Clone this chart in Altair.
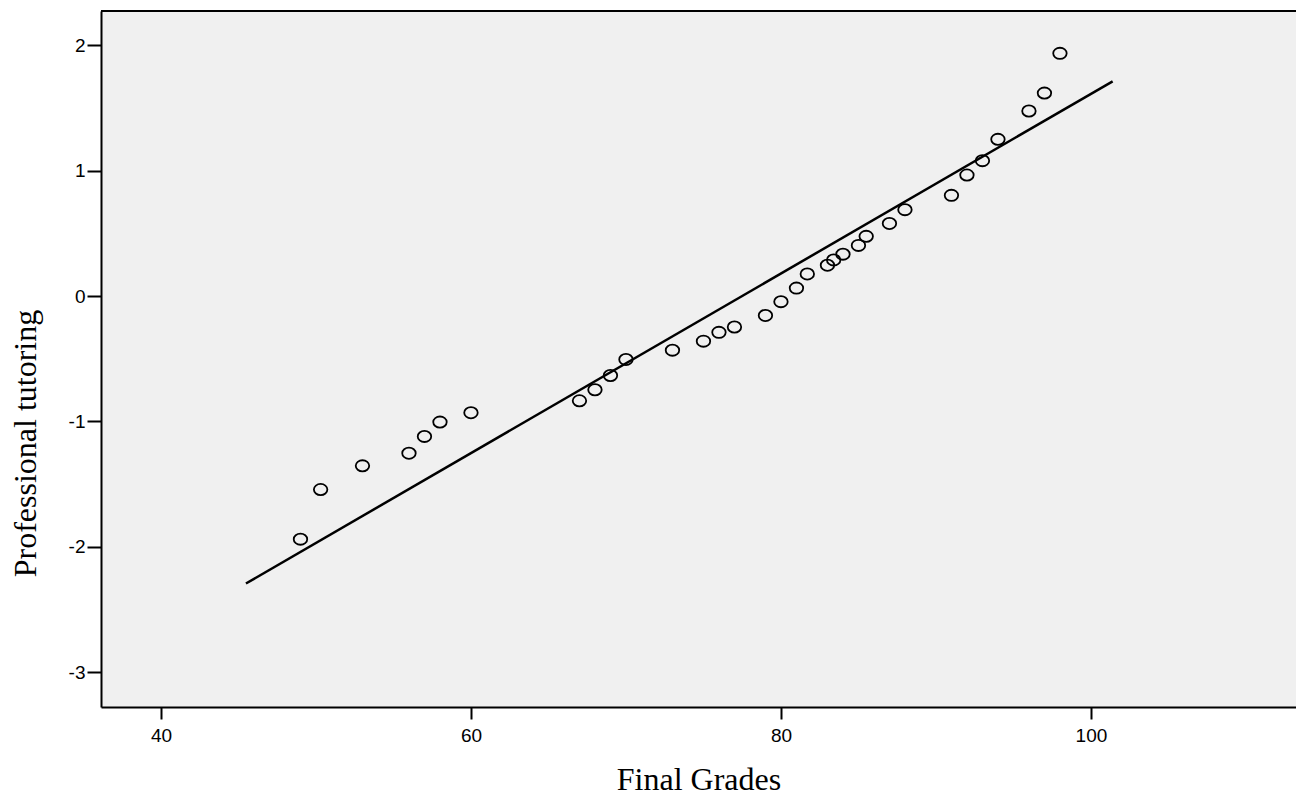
import altair as alt
import pandas as pd

# Q-Q plot data
grades = [49.0, 50.3, 53.0, 56.0, 57.0, 58.0, 60.0, 67.0, 68.0, 69.0, 70.0,
          73.0, 75.0, 76.0, 77.0, 79.0, 80.0, 81.0, 81.7, 83.0, 83.4, 84.0,
          85.0, 85.5, 87.0, 88.0, 91.0, 92.0, 93.0, 94.0, 96.0, 97.0, 98.0]
expected = [-1.940, -1.544, -1.355, -1.254, -1.120, -1.006, -0.931, -0.836,
            -0.748, -0.634, -0.506, -0.432, -0.360, -0.290, -0.247, -0.155,
            -0.045, 0.063, 0.176, 0.246, 0.288, 0.334, 0.404, 0.476, 0.579,
            0.689, 0.803, 0.965, 1.080, 1.250, 1.476, 1.619, 1.936]
line_x = [45.48, 101.4]
line_y = [-2.294, 1.713]
x_ticks = [40, 60, 80, 100]
y_ticks = [-3, -2, -1, 0, 1, 2]

W, H = 1195, 696

pts = pd.DataFrame({"x": grades, "y": expected})
ln = pd.DataFrame({"x": line_x, "y": line_y})

xs = alt.Scale(domain=[36.13, 113.23], nice=False, zero=False)
ys = alt.Scale(domain=[-3.279, 2.274], nice=False, zero=False)

xaxis = alt.Axis(values=x_ticks, tickSize=12, labelPadding=7, title="Final Grades",
                 titleY=82, titleBaseline="alphabetic",
                 labelExpr="'' + datum.value")
yaxis = alt.Axis(values=y_ticks, tickSize=14, labelPadding=2, title="Professional tutoring",
                 titleX=-65.5, titleY=432, titleBaseline="alphabetic",
                 labelExpr="'' + datum.value")

ellipse = "M -1 0 A 1 0.83 0 1 1 1 0 A 1 0.83 0 1 1 -1 0 Z"

line = alt.Chart(ln).mark_line(color="black", strokeWidth=2.5).encode(
    x=alt.X("x:Q", scale=xs, axis=xaxis),
    y=alt.Y("y:Q", scale=ys, axis=yaxis),
)

points = alt.Chart(pts).mark_point(
    shape=ellipse, size=182, filled=False, stroke="black", strokeWidth=1.8, opacity=1
).encode(
    x=alt.X("x:Q", scale=xs, axis=xaxis),
    y=alt.Y("y:Q", scale=ys, axis=yaxis),
)

top = alt.Chart(pd.DataFrame({"a": [0]})).mark_rule(color="black", strokeWidth=2).encode(
    x=alt.value(0), x2=alt.value(W), y=alt.value(0)
)

chart = alt.layer(line, points, top).properties(
    width=W, height=H,
    autosize=alt.AutoSizeParams(type="none"),
    padding={"left": 101, "top": 11, "right": 0, "bottom": 88},
    background="white",
).configure_view(
    stroke=None, fill="#f0f0f0"
).configure_axis(
    grid=False,
    domainColor="black", domainWidth=2,
    tickColor="black", tickWidth=2,
    labelFont="Liberation Sans", labelFontSize=19, labelColor="black",
    titleFont="Liberation Serif", titleFontSize=32, titleFontWeight="normal",
    titleColor="black",
)

chart.save("out.html", embed_options={"renderer": "svg", "actions": False})
